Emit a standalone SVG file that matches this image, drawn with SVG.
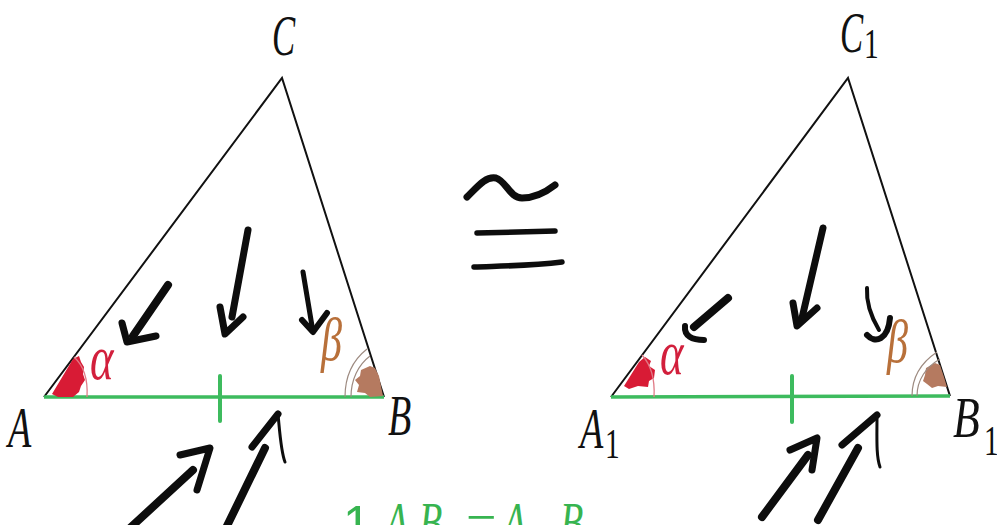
<svg xmlns="http://www.w3.org/2000/svg" width="997" height="525" viewBox="0 0 997 525">
<defs><style>
.side{fill:none;stroke:#111;stroke-width:2}
.base{fill:none;stroke:#3dbb5e;stroke-width:3.5}
.tick{stroke:#3dbb5e;stroke-width:4;stroke-linecap:round}
.ink{fill:none;stroke:#0d0d0d;stroke-linecap:round;stroke-linejoin:round}
.lbl{font-family:"Liberation Serif",serif;font-style:italic;font-size:56px;fill:#111}
.sub{font-family:"Liberation Serif",serif;font-size:42px;fill:#111}
.alpha{font-family:"Liberation Serif",serif;font-style:italic;font-size:64px;fill:#d21f3c}
.beta{font-family:"Liberation Serif",serif;font-style:italic;font-size:62px;fill:#b8703a}
.redarc{fill:none;stroke:#e07a86;stroke-width:1.3}
.brarc{fill:none;stroke:#9d8a80;stroke-width:1.2}
.redblob{fill:#d81b35}
.brblob{fill:#b57a60}
.gs{font-family:"Liberation Sans",sans-serif;font-size:50px;fill:#37b450}
.gi{font-family:"Liberation Serif",serif;font-style:italic;font-size:56px;fill:#37b450}
.gn{font-family:"Liberation Serif",serif;font-size:54px;fill:#37b450}
</style></defs>
<rect width="997" height="525" fill="#ffffff"/>

<g id="triangle-ABC">
  <path class="side" d="M44,397 L282,78 L384,397"/>
  <line class="base" x1="44" y1="397" x2="384" y2="397"/>
  <line class="tick" x1="220" y1="376" x2="220" y2="421"/>
  <path class="redblob" d="M52,394 L73,359 L79,356 L81,362 L84,367 L83,374 L85,380 L81,386 L79,392 L73,397 L58,397 Z"/>
  <path class="redarc" d="M87,397 C88,380 84,366 74,357"/>
  <path class="brblob" d="M361,370 L370,366 L375,368 L379,376 L383,396 L370,397 L365,393 L357,392 L359,385 L355,380 L360,376 Z"/>
  <path class="brarc" d="M345,397 C345,377 353,360 367,349"/>
  <path class="brarc" d="M351,397 C351,380 358,365 370,356"/>
  <text class="alpha" transform="translate(90,379) scale(0.7,1)">α</text>
  <text class="beta" transform="translate(321,360) scale(0.68,1)">β</text>
  <text class="lbl" transform="translate(272,55) scale(0.62,1)">C</text>
  <text class="lbl" transform="translate(8,447) scale(0.68,1)">A</text>
  <text class="lbl" transform="translate(388,435) scale(0.68,1)">B</text>
</g>

<g id="triangle-A1B1C1">
  <path class="side" d="M611,397 L848,78 L950,396"/>
  <line class="base" x1="611" y1="397" x2="950" y2="396"/>
  <line class="tick" x1="792" y1="376" x2="792" y2="422"/>
  <path class="redblob" d="M624,386 L639,362 L645,357 L651,361 L649,366 L655,370 L654,378 L649,381 L648,387 L638,386 L629,389 Z"/>
  <path class="redarc" d="M654,397 C655,380 651,365 642,355"/>
  <path class="brblob" d="M926,368 L935,363 L940,365 L944,377 L947,387 L938,386 L932,388 L927,384 L923,381 L925,375 Z"/>
  <path class="brarc" d="M912,396 C912,377 922,362 937,352"/>
  <path class="brarc" d="M917,396 C917,380 926,367 940,359"/>
  <text class="alpha" transform="translate(660,374) scale(0.7,1)">α</text>
  <text class="beta" transform="translate(887,362) scale(0.68,1)">β</text>
  <text class="lbl" transform="translate(840,52) scale(0.62,1)">C</text>
  <text class="sub" transform="translate(864,58) scale(0.7,1)">1</text>
  <text class="lbl" transform="translate(580,448) scale(0.68,1)">A</text>
  <text class="sub" transform="translate(605,458) scale(0.7,1)">1</text>
  <text class="lbl" transform="translate(953,437) scale(0.78,1)">B</text>
  <text class="sub" transform="translate(984,455) scale(0.7,1)">1</text>
</g>

<g id="congruent">
  <path class="ink" stroke-width="7" d="M467,197 C478,186 486,176 496,178 C506,181 510,198 522,198 C534,198 546,192 555,185"/>
  <path class="ink" stroke-width="5.5" d="M477,233 L555,231"/>
  <path class="ink" stroke-width="5.5" d="M474,267 C500,266 530,266 562,262"/>
</g>

<g id="arrows">
  <path class="ink" stroke-width="8" d="M168,285 L133,336"/>
  <path class="ink" stroke-width="7" d="M122,323 L127,342 L156,336"/>
  <path class="ink" stroke-width="7" d="M248,230 L232,317"/>
  <path class="ink" stroke-width="7" d="M220,307 L225,334 L243,317"/>
  <path class="ink" stroke-width="5" d="M303,272 L312,326"/>
  <path class="ink" stroke-width="6" d="M302,320 L313,332 L327,313"/>

  <path class="ink" stroke-width="8" d="M728,298 L694,327"/>
  <path class="ink" stroke-width="6" d="M685,326 C684,336 692,340 704,340"/>
  <path class="ink" stroke-width="7" d="M823,228 L802,318"/>
  <path class="ink" stroke-width="7" d="M793,303 L797,326 L817,308"/>
  <path class="ink" stroke-width="4" d="M867,288 C866,305 873,320 879,330"/>
  <path class="ink" stroke-width="6" d="M867,335 C875,344 888,340 890,318"/>

  <path class="ink" stroke-width="8" d="M130,528 L193,470"/>
  <path class="ink" stroke-width="7" d="M180,455 L210,448 L197,490"/>
  <path class="ink" stroke-width="8" d="M226,528 L265,448"/>
  <path class="ink" stroke-width="7" d="M252,447 L278,414"/>
  <path class="ink" stroke-width="3" d="M278,414 C280,435 281,452 285,462"/>

  <path class="ink" stroke-width="8" d="M762,517 L808,455"/>
  <path class="ink" stroke-width="7" d="M790,450 L817,438 L812,470"/>
  <path class="ink" stroke-width="8" d="M818,520 L858,448"/>
  <path class="ink" stroke-width="7" d="M842,445 L877,415"/>
  <path class="ink" stroke-width="3" d="M877,415 C877,438 876,456 880,467"/>
</g>

<g id="statement">
  <text class="gs" x="343" y="541">1.</text>
  <text class="gi" transform="translate(385,542) scale(0.68,1)">A</text>
  <text class="gi" transform="translate(419,542) scale(0.68,1)">B</text>
  <text class="gn" x="466" y="541">=</text>
  <text class="gi" transform="translate(503,542) scale(0.68,1)">A</text>
  <text class="gn" transform="translate(534,566) scale(0.7,1)" font-size="40">1</text>
  <text class="gi" transform="translate(560,542) scale(0.68,1)">B</text>
  <text class="gn" transform="translate(594,566) scale(0.7,1)" font-size="40">1</text>
</g>
</svg>
